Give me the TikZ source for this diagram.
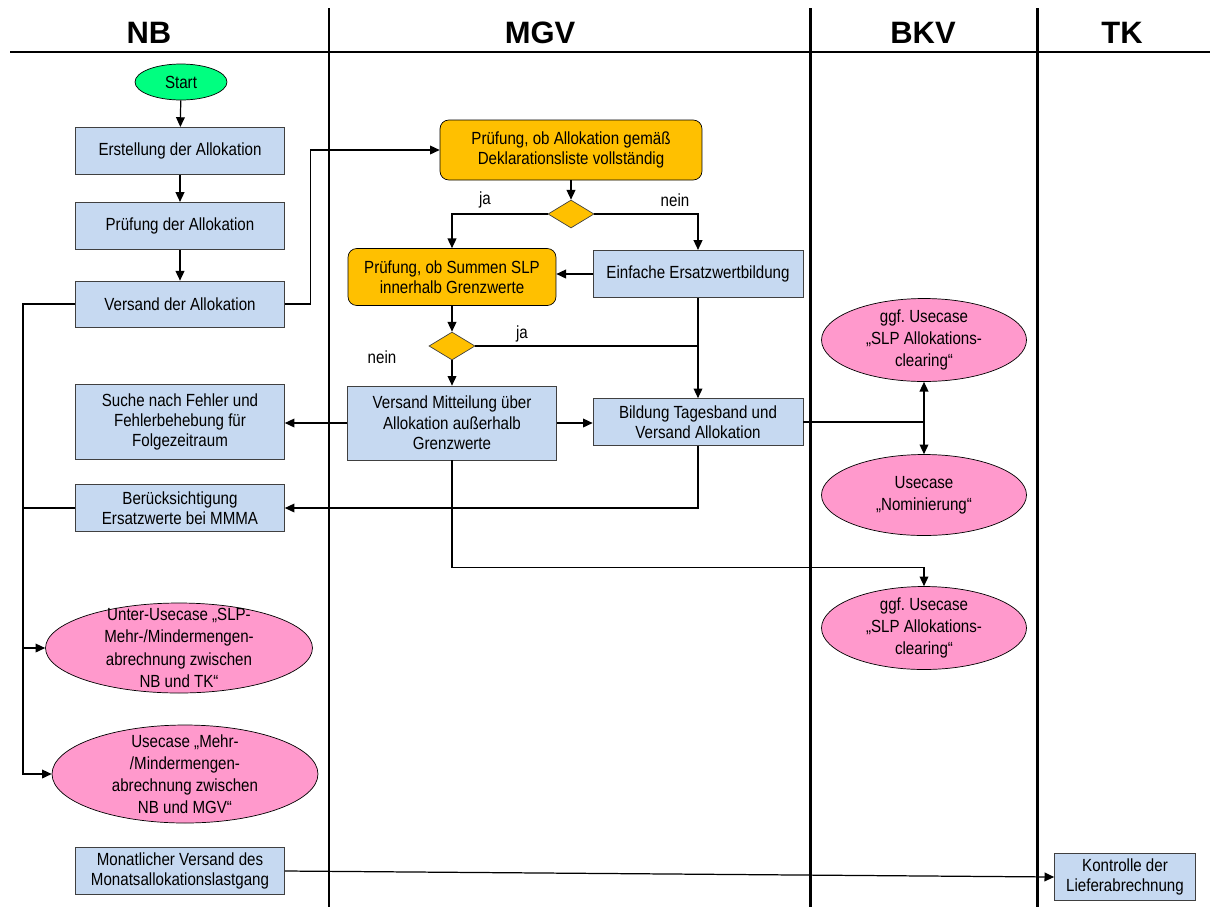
\documentclass[tikz,border=0pt]{standalone}
\usepackage{fontspec}
\setmainfont{Liberation Sans}[FakeStretch=0.86]
\newfontfamily\lanefont{Liberation Sans}
\usepackage{xcolor}
\usetikzlibrary{arrows.meta}
\usetikzlibrary{shapes.geometric}
\usetikzlibrary{calc}
\definecolor{boxblue}{RGB}{198,217,241}
\definecolor{decorange}{RGB}{255,192,0}
\definecolor{ucpink}{RGB}{255,153,204}
\definecolor{startgreen}{RGB}{0,255,128}
\definecolor{edgegray}{RGB}{64,64,64}
\frenchspacing

\begin{document}
\begin{tikzpicture}[x=0.02cm, y=-0.02cm,
    font=\fontsize{10}{11.6}\selectfont,
    >={Triangle[length=5.5pt,width=5pt]},
    lane/.style={line width=1.7pt},
    head/.style={font=\lanefont\bfseries\fontsize{17.6}{20}\selectfont},
    box/.style={draw=edgegray, fill=boxblue, align=center, inner sep=1pt,
      minimum width=4.18cm, minimum height=0.95cm},
    check/.style={box, fill=decorange, draw=black, rounded corners=5pt},
    dec/.style={diamond, draw=edgegray, fill=decorange, inner sep=0pt,
      minimum width=0.92cm, minimum height=0.56cm},
    uc/.style={ellipse, draw=black, fill=ucpink, inner sep=0pt,
      minimum width=4.1cm, minimum height=1.66cm},
    uctext/.style={align=center, font=\fontsize{10}{12.6}\selectfont},
    conn/.style={line width=0.7pt}]
  \useasboundingbox (0,0) rectangle (1210,907);

  % swimlanes
  \draw[lane] (10,52) -- (1210,52);
  \foreach \x in {329,810,1037}
    \draw[lane] (\x,8) -- (\x,907);
  \node[head] (hnb) at (149,33) {NB};
  \node[head] (hmgv) at (540,33) {MGV};
  \node[head] (hbkv) at (923,33) {BKV};
  \node[head] (htk) at (1122,33) {TK};

  % NB
  \node[ellipse, draw=black, fill=startgreen, minimum width=1.84cm,
    minimum height=0.72cm, inner sep=0pt] (start) at (181,82) {Start};
  \node[box] (erst) at (180,151) {Erstellung der Allokation};
  \node[box] (pruefa) at (180,226) {Prüfung der Allokation};
  \node[box, minimum height=0.92cm] (vers) at (180,304) {Versand der Allokation};
  \node[box, minimum height=1.5cm] (suche) at (180,422)
    {Suche nach Fehler und\\Fehlerbehebung für\\Folgezeitraum};
  \node[box, minimum height=0.94cm] (beruecks) at (180,508)
    {Berücksichtigung\\Ersatzwerte bei MMMA};
  \node[uc, minimum width=5.34cm, minimum height=1.8cm,
    label={[uctext]center:{Unter-Usecase „SLP-\\Mehr-/Mindermengen-\\abrechnung zwischen\\NB und TK“}}]
    (usecslp) at (179,648) {};
  \node[uc, minimum width=5.32cm, minimum height=1.96cm,
    label={[uctext]center:{Usecase „Mehr-\\/Mindermengen-\\abrechnung zwischen\\NB und MGV“}}]
    (usecmgv) at (185,774) {};
  \node[box, minimum height=0.94cm] (monat) at (180,871)
    {Monatlicher Versand des\\Monatsallokationslastgang};

  % MGV
  \node[check, minimum width=5.24cm, minimum height=1.2cm] (pruefdekl) at (571,150)
    {Prüfung, ob Allokation gemäß\\Deklarationsliste vollständig};
  \node[dec] (deca) at (571,214) {};
  \node[check, minimum width=4.16cm, minimum height=1.14cm] (pruefslp) at (452,277)
    {Prüfung, ob Summen SLP\\innerhalb Grenzwerte};
  \node[box, minimum width=4.2cm] (ersatz) at (698,274) {Einfache Ersatzwertbildung};
  \node[dec] (decb) at (452,346) {};
  \node[box, minimum height=1.48cm] (mitteil) at (452,423)
    {Versand Mitteilung über\\Allokation außerhalb\\Grenzwerte};
  \node[box, minimum width=4.2cm, minimum height=0.94cm] (tagesb) at (698,422)
    {Bildung Tagesband und\\Versand Allokation};
  \node (lja) at (485,200) {ja};
  \node (lnein) at (675,200) {nein};
  \node (ljb) at (522,334) {ja};
  \node (lneinb) at (382,357) {nein};

  % BKV
  \node[uc, label={[uctext]center:{ggf. Usecase\\„SLP Allokations-\\clearing“}}]
    (clearinga) at (924,340) {};
  \node[uc, minimum height=1.62cm, label={[uctext]center:{Usecase\\„Nominierung“}}]
    (nomi) at (924,495) {};
  \node[uc, label={[uctext]center:{ggf. Usecase\\„SLP Allokations-\\clearing“}}]
    (clearingb) at (924,628) {};

  % TK
  \node[box, minimum width=2.82cm, minimum height=0.94cm] (kontr) at (1125,877)
    {Kontrolle der\\Lieferabrechnung};

  % connectors
  \draw[conn,->] (start) -- (erst);
  \draw[conn,->] (erst) -- (pruefa);
  \draw[conn,->] (pruefa) -- (vers);
  \draw[conn,->] (vers.east) -- +(26,0) |- (pruefdekl.west);
  \draw[conn,->] (pruefdekl) -- (deca);
  \draw[conn,->] (deca.west) -| (pruefslp.north);
  \draw[conn,->] (deca.east) -| (ersatz.north);
  \draw[conn,->] (ersatz.west) -- (ersatz.west -| pruefslp.east);
  \draw[conn,->] (ersatz) -- (tagesb);
  \draw[conn,->] (pruefslp) -- (decb);
  \draw[conn] (decb.east) -- (decb.east -| ersatz.south);
  \draw[conn,->] (decb) -- (mitteil);
  \draw[conn,->] (mitteil.west) -- (mitteil.west -| suche.east);
  \draw[conn,->] (mitteil.east) -- (mitteil.east -| tagesb.west);
  \draw[conn,->] (mitteil.south) -- +(0,107) -| (clearingb.north);
  \draw[conn,->] (tagesb.south) |- (beruecks.east);
  \coordinate (bkv) at (tagesb.east -| clearinga.south);
  \draw[conn] (tagesb.east) -- (bkv);
  \draw[conn,->] (bkv) -- (clearinga.south);
  \draw[conn,->] (bkv) -- (nomi.north);
  \coordinate (nbbus) at (23,304);
  \draw[conn,->] (vers.west) -- (nbbus) |- (usecmgv.west);
  \draw[conn] (nbbus |- beruecks.west) -- (beruecks.west);
  \draw[conn,->] (nbbus |- usecslp.west) -- (usecslp.west);
  \draw[conn,->] (monat.east) -- (kontr.west);
\end{tikzpicture}
\end{document}
